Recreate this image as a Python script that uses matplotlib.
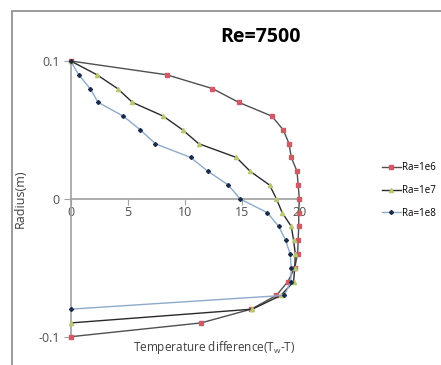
import matplotlib.pyplot as plt
from matplotlib.patches import Rectangle

# radius positions (m)
radius = [0.1, 0.09, 0.08, 0.07, 0.06, 0.05, 0.04, 0.03, 0.02, 0.01, 0.0,
          -0.01, -0.02, -0.03, -0.04, -0.05, -0.06, -0.07, -0.08, -0.09, -0.1]

# temperature difference for each Rayleigh number
dt_ra1e6 = [0, 8.4, 12.4, 14.7, 17.6, 18.6, 19.1, 19.3, 19.8, 19.9, 20.0,
            19.95, 19.95, 19.9, 19.85, 19.6, 19.0, 18.0, 15.8, 11.4, 0]
dt_ra1e7 = [0, 2.3, 4.1, 5.4, 8.1, 9.8, 11.2, 14.5, 15.7, 17.4, 18.0,
            18.5, 19.3, 19.5, 19.65, 19.6, 19.5, 18.4, 15.9, 0]
dt_ra1e8 = [0, 0.7, 1.7, 2.4, 4.6, 6.1, 7.4, 10.5, 12.0, 13.8, 14.8,
            17.2, 18.2, 18.8, 19.2, 19.3, 19.25, 18.7, 0]

plt.rcParams['font.family'] = ['Open Sans', 'DejaVu Sans']
plt.rcParams['mathtext.default'] = 'regular'

fig = plt.figure(figsize=(4.41, 3.65), dpi=100)
ax = fig.add_axes([0.1603, 0.0775, 0.5184, 0.7554])

# outer chart border (Excel style)
fig.patches.append(Rectangle((0.027, -0.2), 1.2, 1.17, transform=fig.transFigure,
                             fill=False, edgecolor='#8a8a8a', linewidth=1.2))

ax.plot(dt_ra1e6, radius[:len(dt_ra1e6)], color='#505050', lw=1.0,
        marker='s', ms=3.2, mfc='#d05a66', mec='#d05a66', label='Ra=1e6', clip_on=False, zorder=3)
ax.plot(dt_ra1e7, radius[:len(dt_ra1e7)], color='#2a2a2a', lw=1.0,
        marker='^', ms=3, mfc='#b8c870', mec='#b8c870', label='Ra=1e7', clip_on=False, zorder=3)
ax.plot(dt_ra1e8, radius[:len(dt_ra1e8)], color='#8eaacb', lw=1.0,
        marker='D', ms=2, mfc='#1c2a4a', mec='#1c2a4a', label='Ra=1e8', clip_on=False, zorder=3)

ax.set_xlim(0, 20)
ax.set_ylim(-0.1, 0.1)
ax.spines['top'].set_visible(False)
ax.spines['right'].set_visible(False)
ax.spines['bottom'].set_position(('data', 0))
ax.spines['left'].set_position(('data', 0))
for s in ['bottom', 'left']:
    ax.spines[s].set_color('#a0a0a0')
    ax.spines[s].set_linewidth(1.2)

ax.set_xticks([0, 5, 10, 15, 20])
ax.set_yticks([-0.1, 0, 0.1])
ax.set_yticklabels(['-0.1', '0', '0.1'])
ax.tick_params(axis='x', length=4, color='#a0a0a0', labelsize=9, labelcolor='#505050', pad=1)
ax.tick_params(axis='y', length=5, color='#a0a0a0', labelsize=9, labelcolor='#505050', pad=3)

ax.set_title('Re=7500', fontsize=14, fontweight='bold', x=0.83, y=1.04)
ax.set_ylabel('Radius(m)', fontsize=9, color='#404040', labelpad=8)
fig.text(0.485, 0.047, 'Temperature difference(T$_w$-T)', fontsize=8.5,
         color='#404040', ha='center', va='center')

ax.legend(loc='center left', bbox_to_anchor=(1.33, 0.53), frameon=False,
          fontsize=7, handlelength=2.0, handletextpad=0.15, labelspacing=1.2,
          borderpad=0.2)

fig.savefig('out.png', dpi=100)
